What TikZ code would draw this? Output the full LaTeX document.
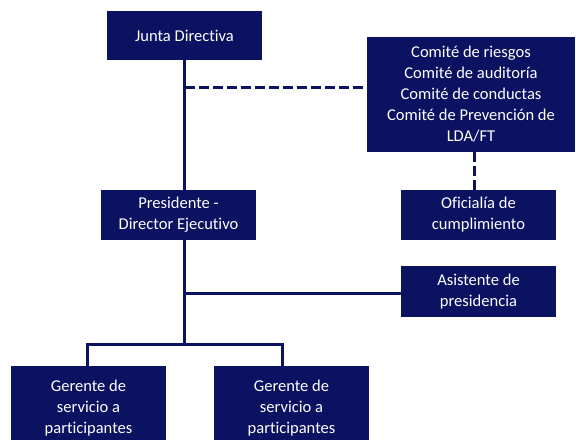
\documentclass[tikz,border=0pt]{standalone}
\usepackage{fontspec}
\setmainfont[Ligatures=NoCommon]{Carlito}
\usepackage{tikz}
\pgfdeclarelayer{edgelayer}
\pgfdeclarelayer{nodelayer}
\pgfsetlayers{edgelayer,nodelayer,main}
\definecolor{hexcolor0x0b1262}{rgb}{0.043,0.071,0.384}
\definecolor{mywhite}{rgb}{1.000,1.000,1.000}
\tikzstyle{unit}=[rectangle,fill=hexcolor0x0b1262,text=mywhite,align=center,inner sep=0pt,font=\fontsize{12.4}{15.75}\selectfont]
\tikzstyle{link}=[draw=hexcolor0x0b1262,line width=2.25pt]
\tikzstyle{dashlink}=[link,dash pattern=on 7.5pt off 3pt]

\begin{document}
\begin{tikzpicture}[x=0.75pt,y=-0.75pt]
	\useasboundingbox (0,0) rectangle (576,440);
	\begin{pgfonlayer}{nodelayer}
		\node [style=unit,minimum width=116.25pt,minimum height=36.75pt] (0) at (184.5, 35.5) {Junta Directiva};
		\node [style=unit,minimum width=156pt,minimum height=86.25pt] (1) at (471, 94.5) {Comité de riesgos\\Comité de auditoría\\Comité de conductas\\Comité de Prevención de\\LDA/FT};
		\node [style=unit,minimum width=116.25pt,minimum height=37.5pt] (2) at (178.5, 215) {Presidente -\\Director Ejecutivo};
		\node [style=unit,minimum width=116.25pt,minimum height=37.5pt] (3) at (478.5, 215) {Oficialía de\\cumplimiento};
		\node [style=unit,minimum width=116.25pt,minimum height=38.25pt] (4) at (478.5, 291.5) {Asistente de\\presidencia};
		\node [style=unit,minimum width=116.25pt,minimum height=63pt] (5) at (88.5, 408) {Gerente de\\servicio a\\participantes};
		\node [style=unit,minimum width=116.25pt,minimum height=63pt] (6) at (291.5, 408) {Gerente de\\servicio a\\participantes};
	\end{pgfonlayer}
	\coordinate (7) at (184.5, 344);
	\coordinate (8) at (87, 344);
	\coordinate (9) at (282, 344);
	\coordinate (10) at (184.5, 87);
	\coordinate (11) at (184.5, 293);
	\coordinate (12) at (474, 152);
	\begin{pgfonlayer}{edgelayer}
		\draw [style=link] (0.south) to (7);
		\draw [style=link] (5.north -| 8) to (8) to (9) to (6.north -| 9);
		\draw [style=link] (11) to (11 -| 4.west);
		\draw [style=dashlink] (10) to (10 -| 1.west);
		\draw [style=dashlink] (12) to (12 |- 3.north);
	\end{pgfonlayer}
\end{tikzpicture}
\end{document}
